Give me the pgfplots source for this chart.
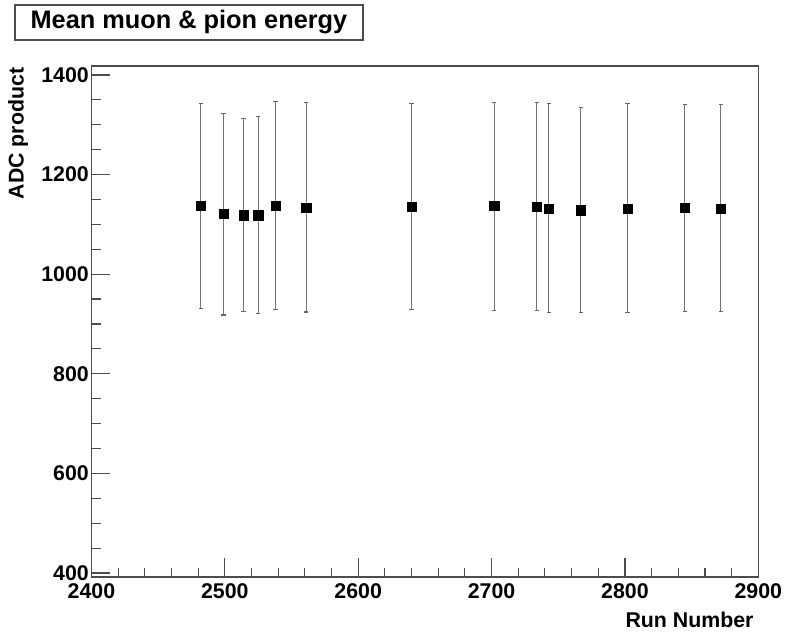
\documentclass[border=0pt]{standalone}
\usepackage{fontspec}
\setmainfont{Liberation Sans}
\usepackage{pgfplots}
\pgfplotsset{compat=1.18}

\definecolor{framegray}{gray}{0.3}

\begin{document}
\begin{tikzpicture}
\useasboundingbox (-68.6pt,-43.5pt) rectangle (526.9pt,432.75pt);
\begin{axis}[
    at={(0,0)}, anchor=south west,
    scale only axis,
    width=500.1pt, height=383.25pt,
    xmin=2400, xmax=2900,
    ymin=392, ymax=1418,
    xtick={2400,2500,...,2900},
    ytick={400,600,...,1400},
    minor x tick num=4,
    minor y tick num=3,
    tick align=inside,
    xtick pos=left, ytick pos=left,
    major tick length=14pt,
    minor tick length=7pt,
    axis line style={framegray, line width=1.1pt},
    every tick/.style={framegray, line width=0.9pt},
    /pgf/number format/assume math mode=true,
    /pgf/number format/1000 sep={},
    ticklabel style={font=\fontsize{16}{19}\selectfont\bfseries},
    yticklabel style={xshift=1.5pt},
    xticklabel style={yshift=-1.5pt},
]
\addplot[only marks, mark=square*, mark size=3.5pt, black,
    error bars/.cd, y dir=both, y explicit,
    error bar style={black!55, line width=0.8pt},
    error mark options={rotate=90, mark size=1.6pt, black!60, line width=0.8pt}]
coordinates {
    (2482,1137) += (0,206) -= (0,206)
    (2499,1121) += (0,202) -= (0,203)
    (2514,1118) += (0,195) -= (0,193)
    (2525,1118) += (0,199) -= (0,197)
    (2538,1138) += (0,209) -= (0,208)
    (2561,1133) += (0,211) -= (0,209)
    (2640,1136) += (0,206) -= (0,206)
    (2702,1137) += (0,208) -= (0,209)
    (2734,1136) += (0,208) -= (0,208)
    (2743,1132) += (0,210) -= (0,209)
    (2767,1128) += (0,206) -= (0,205)
    (2802,1132) += (0,210) -= (0,209)
    (2845,1133) += (0,208) -= (0,207)
    (2872,1132) += (0,209) -= (0,207)
};
\end{axis}
% title box
\draw[framegray, line width=0.9pt, fill=white] (-57.4pt,402.75pt) rectangle (203.6pt,429pt);
\node[font=\fontsize{19}{22}\selectfont\bfseries] at (73.1pt,415.9pt) {Mean muon \& pion energy};
% axis labels
\node[font=\fontsize{16}{18}\selectfont\bfseries, rotate=90, anchor=east] at (-55.1pt,385.5pt) {ADC product};
\node[font=\fontsize{16}{18}\selectfont\bfseries, anchor=east] at (500.1pt,-32.25pt) {Run Number};
\end{tikzpicture}
\end{document}
